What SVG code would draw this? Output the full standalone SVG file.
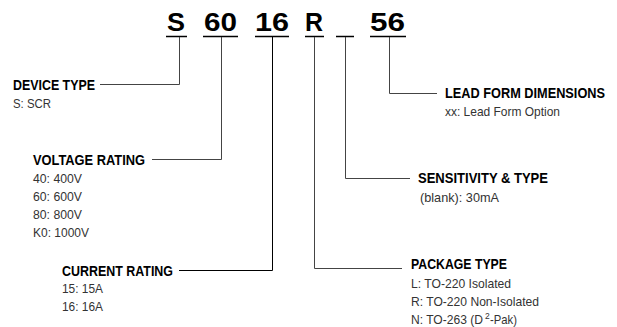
<svg xmlns="http://www.w3.org/2000/svg" width="617" height="327" viewBox="0 0 617 327">
<style>
.big{font-family:"Liberation Sans Narrow","Liberation Sans",Arial,sans-serif;font-weight:bold;font-size:25.5px;fill:#000}
.h{font-family:"Liberation Sans Narrow","Liberation Sans",Arial,sans-serif;font-weight:bold;font-size:15px;fill:#000}
.t{font-family:"Liberation Sans Narrow","Liberation Sans",Arial,sans-serif;font-size:13px;fill:#333}
.sup{font-family:"Liberation Sans Narrow","Liberation Sans",Arial,sans-serif;font-size:8.5px;fill:#333}
.ul{stroke:#000;stroke-width:1.5;fill:none}
.c{stroke:#444;stroke-width:1;fill:none}
.k{stroke:#000;stroke-width:1;fill:none}
</style>
<rect width="617" height="327" fill="#fff"/>
<g id="code">
<text class="big" x="167" y="30.5" textLength="18" lengthAdjust="spacingAndGlyphs">S</text>
<text class="big" x="204" y="30.5" textLength="33" lengthAdjust="spacingAndGlyphs">60</text>
<text class="big" x="255" y="30.5" textLength="34" lengthAdjust="spacingAndGlyphs">16</text>
<text class="big" x="305" y="30.5" textLength="18" lengthAdjust="spacingAndGlyphs">R</text>
<text class="big" x="370" y="30.5" textLength="35" lengthAdjust="spacingAndGlyphs">56</text>
<line class="ul" x1="166" y1="36.5" x2="187" y2="36.5"/>
<line class="ul" x1="203" y1="36.5" x2="238" y2="36.5"/>
<line class="ul" x1="255" y1="36.5" x2="289" y2="36.5"/>
<line class="ul" x1="305" y1="36.5" x2="324" y2="36.5"/>
<line class="ul" x1="336" y1="36.5" x2="354" y2="36.5"/>
<line class="ul" x1="370" y1="36.5" x2="406" y2="36.5"/>
</g>
<g id="connectors">
<path class="c" d="M179.5,37 V84.5 H100"/>
<path class="c" d="M221.5,37 V159.5 H152"/>
<path class="k" d="M272.5,37 V270.5 H179"/>
<path class="c" d="M314.5,37 V268.5 H402"/>
<path class="c" d="M345.5,37 V178.5 H410"/>
<path class="c" d="M389.5,37 V93.5 H437"/>
</g>
<g id="device-type">
<text class="h" x="13" y="90" textLength="82" lengthAdjust="spacingAndGlyphs">DEVICE TYPE</text>
<text class="t" x="13" y="107.5" textLength="38" lengthAdjust="spacingAndGlyphs">S: SCR</text>
</g>
<g id="voltage-rating">
<text class="h" x="33" y="165" textLength="112" lengthAdjust="spacingAndGlyphs">VOLTAGE RATING</text>
<text class="t" x="33" y="183" textLength="49" lengthAdjust="spacingAndGlyphs">40: 400V</text>
<text class="t" x="33" y="201" textLength="49" lengthAdjust="spacingAndGlyphs">60: 600V</text>
<text class="t" x="33" y="219" textLength="49" lengthAdjust="spacingAndGlyphs">80: 800V</text>
<text class="t" x="33" y="237" textLength="56" lengthAdjust="spacingAndGlyphs">K0: 1000V</text>
</g>
<g id="current-rating">
<text class="h" x="62" y="276" textLength="111" lengthAdjust="spacingAndGlyphs">CURRENT RATING</text>
<text class="t" x="62" y="293" textLength="41" lengthAdjust="spacingAndGlyphs">15: 15A</text>
<text class="t" x="62" y="311" textLength="41" lengthAdjust="spacingAndGlyphs">16: 16A</text>
</g>
<g id="package-type">
<text class="h" x="411" y="269" textLength="96" lengthAdjust="spacingAndGlyphs">PACKAGE TYPE</text>
<text class="t" x="411" y="288" textLength="100" lengthAdjust="spacingAndGlyphs">L: TO-220 Isolated</text>
<text class="t" x="411" y="306" textLength="128" lengthAdjust="spacingAndGlyphs">R: TO-220 Non-Isolated</text>
<text class="t" x="411" y="324" textLength="72" lengthAdjust="spacingAndGlyphs">N: TO-263 (D</text>
<text class="sup" x="485" y="319">2</text>
<text class="t" x="490" y="324" textLength="27" lengthAdjust="spacingAndGlyphs">-Pak)</text>
</g>
<g id="sensitivity-type">
<text class="h" x="418" y="183" textLength="130" lengthAdjust="spacingAndGlyphs">SENSITIVITY &amp; TYPE</text>
<text class="t" x="420" y="202" textLength="79" lengthAdjust="spacingAndGlyphs">(blank):  30mA</text>
</g>
<g id="lead-form">
<text class="h" x="445" y="98" textLength="160" lengthAdjust="spacingAndGlyphs">LEAD FORM DIMENSIONS</text>
<text class="t" x="445" y="116" textLength="115" lengthAdjust="spacingAndGlyphs">xx: Lead Form Option</text>
</g>
</svg>
